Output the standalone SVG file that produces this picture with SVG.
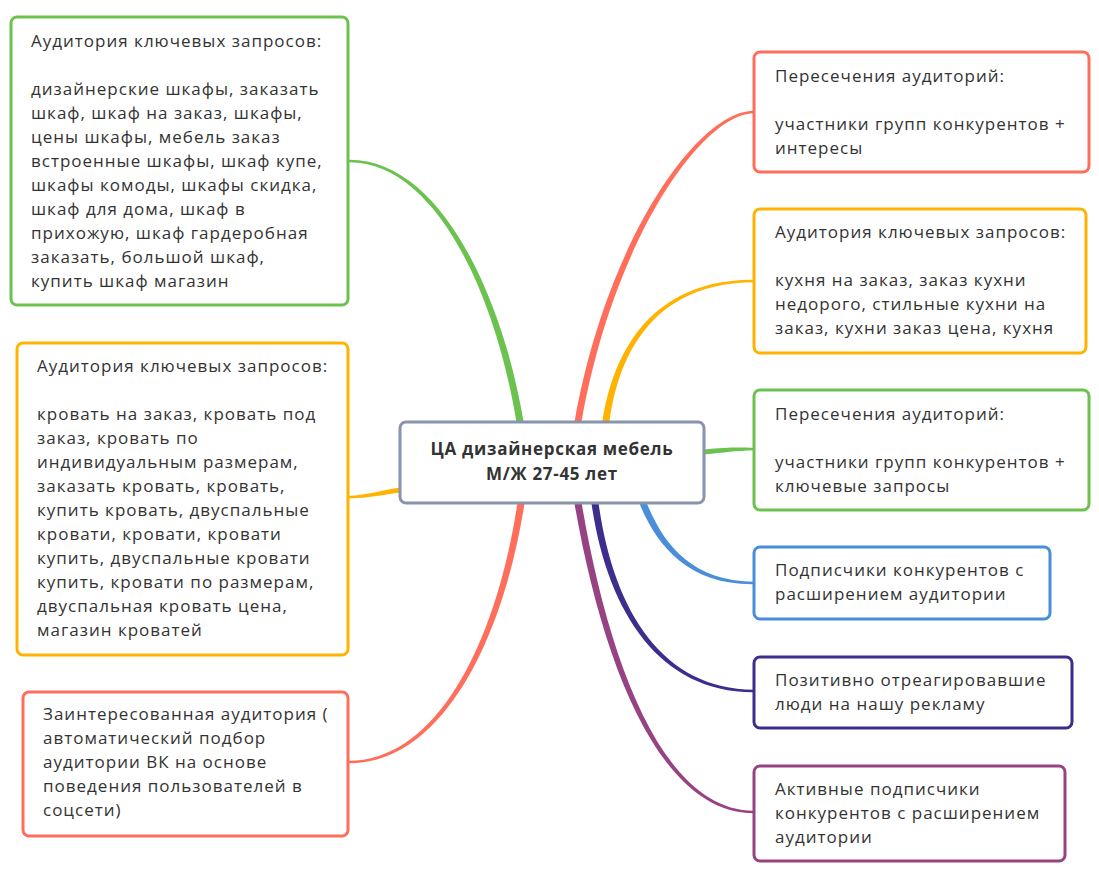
<svg xmlns="http://www.w3.org/2000/svg" width="1099" height="875" viewBox="0 0 1099 875">
<style>
.box{fill:#ffffff;stroke-width:3}
.t{font-family:"Open Sans","Noto Sans","DejaVu Sans",sans-serif;font-size:17px;letter-spacing:1px;fill:#333333}
.c{font-family:"Open Sans","Noto Sans","DejaVu Sans",sans-serif;font-size:17px;letter-spacing:0.7px;font-weight:bold;fill:#333333;text-anchor:middle}
.green{stroke:#6cc24e}.red{stroke:#ff6e5b}.orange{stroke:#ffb300}.blue{stroke:#4a8edb}.indigo{stroke:#3d2d8c}.plum{stroke:#974282}
</style>
<rect width="1099" height="875" fill="#ffffff"/>
<g id="connectors">
<path fill="#6cc24e" d="M523.5,430 L523.5,421.4 C503.1,299.1 441.5,159.4 349,159.8 L349,162.2 C438.5,162.6 496.9,300.9 516.5,422.6 L516.5,430 Z"/>
<path fill="#ff6e5b" d="M581.4,430 L581.4,422.6 C613,241.2 701.5,113.6 754,113.2 L754,110.8 C698.5,110.4 607,238.8 574.6,421.4 L574.6,430 Z"/>
<path fill="#ffb300" d="M609.5,430 L609.5,422.5 C615.1,380.6 636.3,282.8 754,282.2 L754,279.8 C633.7,279.2 608.9,379.4 602.5,421.5 L602.5,430 Z"/>
<path fill="#6cc24e" d="M696,454.5 L704,454.5 C725,452.4 735,450.8 754,450.2 L754,447.8 C735,447.2 725,447.6 704,449.5 L696,449.5 Z"/>
<path fill="#4a8edb" d="M639.8,496 L639.8,504.3 C657.2,546.6 689.2,585 754,584.2 L754,581.8 C690.8,581 662.8,543.4 646.2,501.7 L646.2,496 Z"/>
<path fill="#3d2d8c" d="M591.5,495 L591.5,503.5 C607,611 658.9,692.9 754,692.2 L754,689.8 C661.1,689.1 613,609 598.5,502.5 L598.5,495 Z"/>
<path fill="#974282" d="M574.5,495 L574.5,503.6 C601.9,660.8 658.4,813.5 754,813.2 L754,810.8 C661.6,810.5 608.1,659.2 581.5,502.4 L581.5,495 Z"/>
<path fill="#ff6e5b" d="M517.5,495 L517.5,502.5 C497,639 438.6,760.3 349,760.8 L349,763.2 C441.4,763.7 503,641 524.5,503.5 L524.5,495 Z"/>
<path fill="#ffb300" d="M408,487.5 L400,487.5 C380,490.7 365,495.3 349,495.8 L349,498.2 C365,498.7 380,495.3 400,492.5 L408,492.5 Z"/>
</g>
<g id="center">
<rect class="box" x="400" y="422" width="304" height="81" rx="6" stroke="#8794a9"/>
<text class="c" x="552" y="455">ЦА дизайнерская мебель</text>
<text class="c" x="552" y="480">М/Ж 27-45 лет</text>
</g>
<g id="left-1">
<rect class="box green" x="11" y="17" width="337" height="288" rx="6"/>
<text class="t" x="31" y="47">Аудитория ключевых запросов:</text>
<text class="t" x="31" y="95">дизайнерские шкафы, заказать</text>
<text class="t" x="31" y="119">шкаф, шкаф на заказ, шкафы,</text>
<text class="t" x="31" y="143">цены шкафы, мебель заказ</text>
<text class="t" x="31" y="167">встроенные шкафы, шкаф купе,</text>
<text class="t" x="31" y="191">шкафы комоды, шкафы скидка,</text>
<text class="t" x="31" y="215">шкаф для дома, шкаф в</text>
<text class="t" x="31" y="239">прихожую, шкаф гардеробная</text>
<text class="t" x="31" y="263">заказать, большой шкаф,</text>
<text class="t" x="31" y="287">купить шкаф магазин</text>
</g>
<g id="left-2">
<rect class="box orange" x="17" y="343" width="331" height="312" rx="6"/>
<text class="t" x="37" y="372">Аудитория ключевых запросов:</text>
<text class="t" x="37" y="420">кровать на заказ, кровать под</text>
<text class="t" x="37" y="444">заказ, кровать по</text>
<text class="t" x="37" y="468">индивидуальным размерам,</text>
<text class="t" x="37" y="492">заказать кровать, кровать,</text>
<text class="t" x="37" y="516">купить кровать, двуспальные</text>
<text class="t" x="37" y="540">кровати, кровати, кровати</text>
<text class="t" x="37" y="564">купить, двуспальные кровати</text>
<text class="t" x="37" y="588">купить, кровати по размерам,</text>
<text class="t" x="37" y="612">двуспальная кровать цена,</text>
<text class="t" x="37" y="636">магазин кроватей</text>
</g>
<g id="left-3">
<rect class="box red" x="23" y="692" width="325" height="144" rx="6"/>
<text class="t" x="43" y="720">Заинтересованная аудитория (</text>
<text class="t" x="43" y="744">автоматический подбор</text>
<text class="t" x="43" y="768">аудитории ВК на основе</text>
<text class="t" x="43" y="792">поведения пользователей в</text>
<text class="t" x="43" y="816">соцсети)</text>
</g>
<g id="right-1">
<rect class="box red" x="754" y="52" width="335" height="120" rx="6"/>
<text class="t" x="775" y="82">Пересечения аудиторий:</text>
<text class="t" x="775" y="130">участники групп конкурентов +</text>
<text class="t" x="775" y="154">интересы</text>
</g>
<g id="right-2">
<rect class="box orange" x="754" y="209" width="332" height="144" rx="6"/>
<text class="t" x="775" y="238">Аудитория ключевых запросов:</text>
<text class="t" x="775" y="286">кухня на заказ, заказ кухни</text>
<text class="t" x="775" y="310">недорого, стильные кухни на</text>
<text class="t" x="775" y="334">заказ, кухни заказ цена, кухня</text>
</g>
<g id="right-3">
<rect class="box green" x="754" y="390" width="335" height="120" rx="6"/>
<text class="t" x="775" y="420">Пересечения аудиторий:</text>
<text class="t" x="775" y="468">участники групп конкурентов +</text>
<text class="t" x="775" y="492">ключевые запросы</text>
</g>
<g id="right-4">
<rect class="box blue" x="754" y="547" width="296" height="72" rx="6"/>
<text class="t" x="775" y="576">Подписчики конкурентов с</text>
<text class="t" x="775" y="600">расширением аудитории</text>
</g>
<g id="right-5">
<rect class="box indigo" x="754" y="657" width="318" height="71" rx="6"/>
<text class="t" x="775" y="686">Позитивно отреагировавшие</text>
<text class="t" x="775" y="710">люди на нашу рекламу</text>
</g>
<g id="right-6">
<rect class="box plum" x="754" y="766" width="311" height="95" rx="6"/>
<text class="t" x="775" y="795">Активные подписчики</text>
<text class="t" x="775" y="819">конкурентов с расширением</text>
<text class="t" x="775" y="843">аудитории</text>
</g>
</svg>
